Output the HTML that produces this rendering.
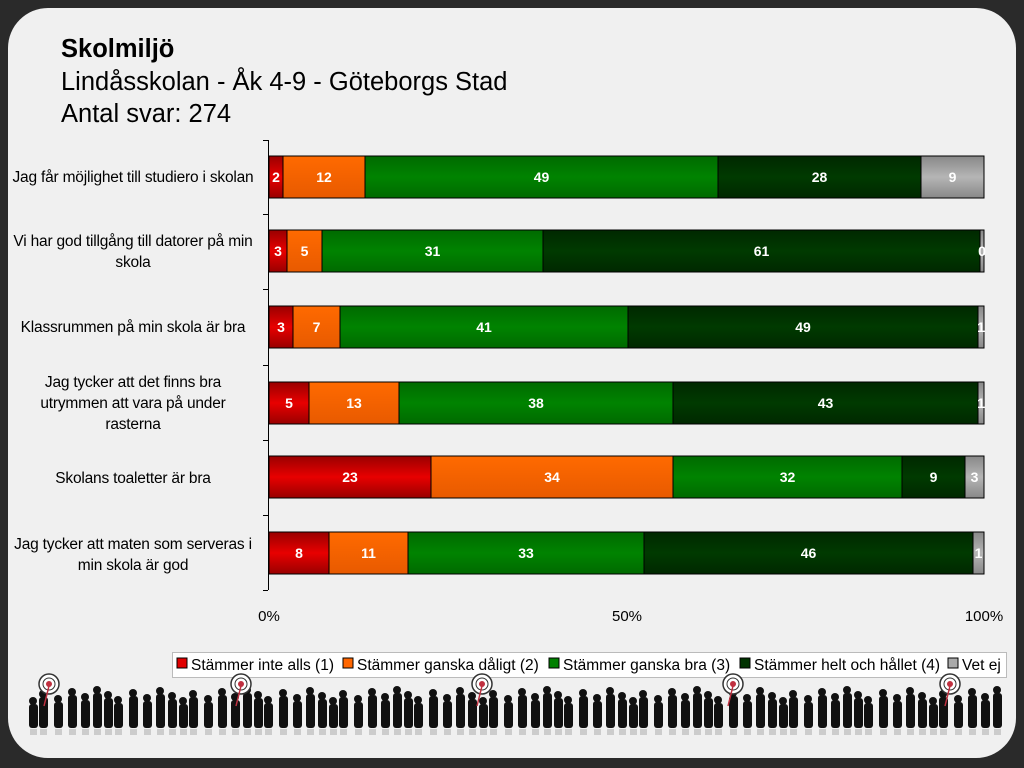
<!DOCTYPE html>
<html><head><meta charset="utf-8"><style>
body{margin:0;width:1024px;height:768px;background:#2a2a2a;font-family:"Liberation Sans",sans-serif;overflow:hidden}
.card{position:absolute;left:8px;top:8px;width:1008px;height:750px;background:#f0f0f0;border-radius:40px}
.t{position:absolute;left:61px;color:#000;white-space:nowrap}
.lbl{position:absolute;left:0;width:266px;text-align:center;font-size:15.5px;line-height:21px;color:#000;white-space:nowrap;letter-spacing:-0.2px}
</style></head><body>
<div class="card"></div>
<div class="t" style="top:35px;font-size:25.5px;font-weight:bold">Skolmiljö</div>
<div class="t" style="top:68px;font-size:25.5px">Lindåsskolan - Åk 4-9 - Göteborgs Stad</div>
<div class="t" style="top:100px;font-size:25.5px">Antal svar: 274</div>
<div class="lbl" style="top:167px">Jag får möjlighet till studiero i skolan</div>
<div class="lbl" style="top:231px">Vi har god tillgång till datorer på min<br>skola</div>
<div class="lbl" style="top:317px">Klassrummen på min skola är bra</div>
<div class="lbl" style="top:372px">Jag tycker att det finns bra<br>utrymmen att vara på under<br>rasterna</div>
<div class="lbl" style="top:468px">Skolans toaletter är bra</div>
<div class="lbl" style="top:534px">Jag tycker att maten som serveras i<br>min skola är god</div>
<svg width="1024" height="768" style="position:absolute;left:0;top:0">
<defs>
<linearGradient id="g0" x1="0" y1="0" x2="0" y2="1"><stop offset="0" stop-color="#900"/><stop offset=".5" stop-color="#e80000"/><stop offset="1" stop-color="#900"/></linearGradient>
<linearGradient id="g1" x1="0" y1="0" x2="0" y2="1"><stop offset="0" stop-color="#ff6a00"/><stop offset="1" stop-color="#e85a00"/></linearGradient>
<linearGradient id="g2" x1="0" y1="0" x2="0" y2="1"><stop offset="0" stop-color="#006a00"/><stop offset=".5" stop-color="#008300"/><stop offset="1" stop-color="#006a00"/></linearGradient>
<linearGradient id="g3" x1="0" y1="0" x2="0" y2="1"><stop offset="0" stop-color="#002800"/><stop offset=".5" stop-color="#003a00"/><stop offset="1" stop-color="#002800"/></linearGradient>
<linearGradient id="g4" x1="0" y1="0" x2="0" y2="1"><stop offset="0" stop-color="#888"/><stop offset=".5" stop-color="#b5b5b5"/><stop offset="1" stop-color="#888"/></linearGradient>
</defs>
<g stroke="#000" stroke-width="1">
<line x1="268.5" y1="140" x2="268.5" y2="590"/>
<line x1="263" y1="140.5" x2="268" y2="140.5"/><line x1="263" y1="214.5" x2="268" y2="214.5"/><line x1="263" y1="289.5" x2="268" y2="289.5"/><line x1="263" y1="365.5" x2="268" y2="365.5"/><line x1="263" y1="440.5" x2="268" y2="440.5"/><line x1="263" y1="515.5" x2="268" y2="515.5"/><line x1="263" y1="590.5" x2="268" y2="590.5"/>
</g>
<g id="bars" stroke="#000" stroke-width="1" font-size="14" font-weight="bold" fill="#fff" text-anchor="middle"></g>
<g font-size="15" text-anchor="middle" fill="#000">
<text x="269" y="621">0%</text><text x="627" y="621">50%</text><text x="984" y="621">100%</text>
</g>
<rect x="172.5" y="652.5" width="834" height="25" fill="#fff" stroke="#bbb"/>
<g font-size="15.5" fill="#000">
<rect x="177" y="658" width="10" height="10" fill="#e00000" stroke="#000"/><text x="191" y="670">Stämmer inte alls (1)</text>
<rect x="343" y="658" width="10" height="10" fill="#ff6600" stroke="#000"/><text x="357" y="670">Stämmer ganska dåligt (2)</text>
<rect x="549" y="658" width="10" height="10" fill="#008000" stroke="#000"/><text x="563" y="670">Stämmer ganska bra (3)</text>
<rect x="740" y="658" width="10" height="10" fill="#003300" stroke="#000"/><text x="754" y="670">Stämmer helt och hållet (4)</text>
<rect x="948" y="658" width="10" height="10" fill="#aaa" stroke="#000"/><text x="962" y="670">Vet ej</text>
</g>
<g id="ppl" fill="#111"></g>
<g id="tg"></g>
</svg>
<script>
var rows=[[177,[269,283,365,718,921,984],[2,12,49,28,9]],[251,[269,287,322,543,980,984],[3,5,31,61,0]],[327,[269,293,340,628,978,984],[3,7,41,49,1]],[403,[269,309,399,673,978,984],[5,13,38,43,1]],[477,[269,431,673,902,965,984],[23,34,32,9,3]],[553,[269,329,408,644,973,984],[8,11,33,46,1]]];
var s='';rows.forEach(function(r){var c=r[0];for(var i=0;i<5;i++){var x=r[1][i],w=r[1][i+1]-x;s+='<rect x="'+x+'" y="'+(c-21)+'" width="'+w+'" height="42" fill="url(#g'+i+')"/>';s+='<text x="'+(x+w/2)+'" y="'+(c+5)+'" stroke="none">'+r[2][i]+'</text>';}});
document.getElementById('bars').innerHTML=s;
var p='',x=28,k=0;while(x<1000){var h=30+((k*7)%12),y=728-h;p+='<circle cx="'+(x+5)+'" cy="'+(y+3)+'" r="4"/><rect x="'+(x+1)+'" y="'+(y+6)+'" width="9" height="'+(h-6)+'" rx="3"/><rect x="'+(x+2)+'" y="'+(729)+'" width="7" height="6" fill="#ccc"/>';x+=10+((k*5)%6);k++;}
document.getElementById('ppl').innerHTML=p;
var t='';[49,241,482,733,950].forEach(function(cx){t+='<circle cx="'+cx+'" cy="684" r="10" fill="#fff" stroke="#333" stroke-width="1.5"/><circle cx="'+cx+'" cy="684" r="6" fill="none" stroke="#333"/><circle cx="'+cx+'" cy="684" r="3" fill="#c03040"/><line x1="'+cx+'" y1="686" x2="'+(cx-5)+'" y2="706" stroke="#c03040" stroke-width="1.5"/>';});
document.getElementById('tg').innerHTML=t;
</script>
</body></html>
